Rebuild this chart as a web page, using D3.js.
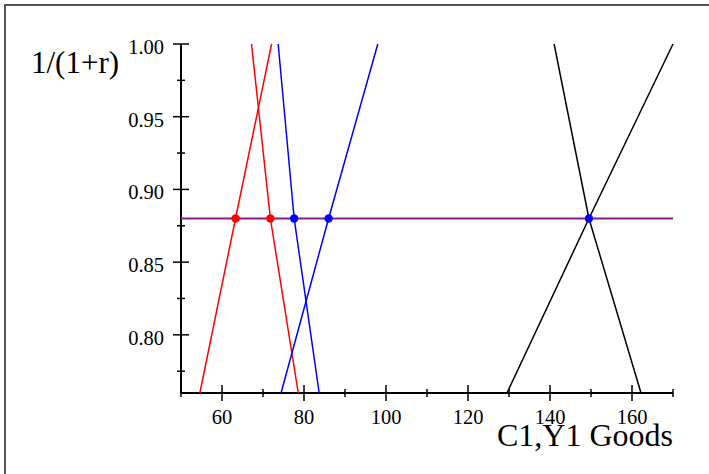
<!DOCTYPE html>
<html>
<head>
<meta charset="utf-8">
<script src="https://cdn.jsdelivr.net/npm/d3@7/dist/d3.min.js"></script>
<style>
  html, body { margin: 0; padding: 0; background: #fff; }
  svg { display: block; }
  svg text { font-family: "Liberation Serif", "Times New Roman", serif; fill: #000; }
</style>
</head>
<body>
<svg id="chart" width="709" height="474"></svg>
<script>
// Discount factor 1/(1+r) against goods quantity C1, Y1
const rate = 0.88;                       // equilibrium discount factor

// each curve: [goods, discount factor] at bottom, crossing and top
const redRising   = [[54.6, 0.76], [63.3, 0.88], [72.1, 1.00]];
const redFalling  = [[78.6, 0.76], [71.8, 0.88], [67.2, 1.00]];
const blueFalling = [[83.7, 0.76], [77.6, 0.88], [73.7, 1.00]];
const blueRising  = [[74.4, 0.76], [86.0, 0.88], [98.0, 1.00]];
const blackFalling = [[162.2, 0.76], [149.5, 0.88], [141.0, 1.00]];
const blackRising  = [[129.5, 0.76], [149.5, 0.88], [170.0, 1.00]];

// crossing points with the rate line
const redDots  = [63.3, 71.8];
const blueDots = [77.6, 86.0, 149.5];

const xMajor = [60, 80, 100, 120, 140, 160];
const xMinor = [50, 70, 90, 110, 130, 150, 170];
const yMajor = [0.80, 0.85, 0.90, 0.95, 1.00];
const yMinor = [0.775, 0.825, 0.875, 0.925, 0.975];

const svg = d3.select("#chart");

// outer frame
svg.append("rect")
  .attr("x", 5).attr("y", 5).attr("width", 720).attr("height", 490)
  .attr("fill", "none").attr("stroke", "#555").attr("stroke-width", 2);

const x = d3.scaleLinear().domain([50, 170]).range([181, 673]);
const y = d3.scaleLinear().domain([0.76, 1.00]).range([393, 44]);

// x axis
const gx = svg.append("g").attr("transform", `translate(0,${y(0.76)})`);
gx.append("line").attr("x1", x(50)).attr("x2", x(170))
  .attr("stroke", "#000").attr("stroke-width", 2);
gx.selectAll("line.maj").data(xMajor).join("line").attr("class", "maj")
  .attr("x1", d => x(d)).attr("x2", d => x(d)).attr("y1", -8).attr("y2", 8)
  .attr("stroke", "#000").attr("stroke-width", 1.5);
gx.selectAll("line.min").data(xMinor).join("line").attr("class", "min")
  .attr("x1", d => x(d)).attr("x2", d => x(d)).attr("y1", -4).attr("y2", 4)
  .attr("stroke", "#000").attr("stroke-width", 1.5);
gx.selectAll("text.tick").data(xMajor).join("text").attr("class", "tick")
  .attr("x", d => x(d)).attr("y", 31).attr("text-anchor", "middle")
  .attr("font-size", 20.5).text(d3.format("d"));

// y axis
const gy = svg.append("g").attr("transform", `translate(${x(50)},0)`);
gy.append("line").attr("y1", y(0.76)).attr("y2", y(1.00))
  .attr("stroke", "#000").attr("stroke-width", 2);
gy.selectAll("line.maj").data(yMajor).join("line").attr("class", "maj")
  .attr("y1", d => y(d)).attr("y2", d => y(d)).attr("x1", -8).attr("x2", 8)
  .attr("stroke", "#000").attr("stroke-width", 1.5);
gy.selectAll("line.min").data(yMinor).join("line").attr("class", "min")
  .attr("y1", d => y(d)).attr("y2", d => y(d)).attr("x1", -4).attr("x2", 4)
  .attr("stroke", "#000").attr("stroke-width", 1.5);
gy.selectAll("text.tick").data(yMajor).join("text").attr("class", "tick")
  .attr("x", -17).attr("y", d => y(d) + 10).attr("text-anchor", "end")
  .attr("font-size", 20.5).text(d3.format(".2f"));

// rate line
svg.append("line")
  .attr("x1", x(50)).attr("x2", x(170)).attr("y1", y(rate)).attr("y2", y(rate))
  .attr("stroke", "#8a1a8a").attr("stroke-width", 2);

// curves
const line = d3.line().x(d => x(d[0])).y(d => y(d[1]));
const curves = [
  [redRising, "#ff0000"], [redFalling, "#ff0000"],
  [blueFalling, "#0000ff"], [blueRising, "#0000ff"],
  [blackFalling, "#000000"], [blackRising, "#000000"]
];
svg.selectAll("path.curve").data(curves).join("path").attr("class", "curve")
  .attr("d", d => line(d[0])).attr("fill", "none")
  .attr("stroke", d => d[1]).attr("stroke-width", 1.5);

// crossing dots
svg.selectAll("circle.red").data(redDots).join("circle").attr("class", "red")
  .attr("cx", d => x(d)).attr("cy", y(rate)).attr("r", 4.2).attr("fill", "#ff0000");
svg.selectAll("circle.blue").data(blueDots).join("circle").attr("class", "blue")
  .attr("cx", d => x(d)).attr("cy", y(rate)).attr("r", 4.2).attr("fill", "#0000ff");

// axis titles
svg.append("text").attr("x", 31).attr("y", 73)
  .attr("font-size", 31).text("1/(1+r)");
svg.append("text").attr("x", 673).attr("y", 446).attr("text-anchor", "end")
  .attr("font-size", 32).text("C1,Y1 Goods");
</script>
</body>
</html>
